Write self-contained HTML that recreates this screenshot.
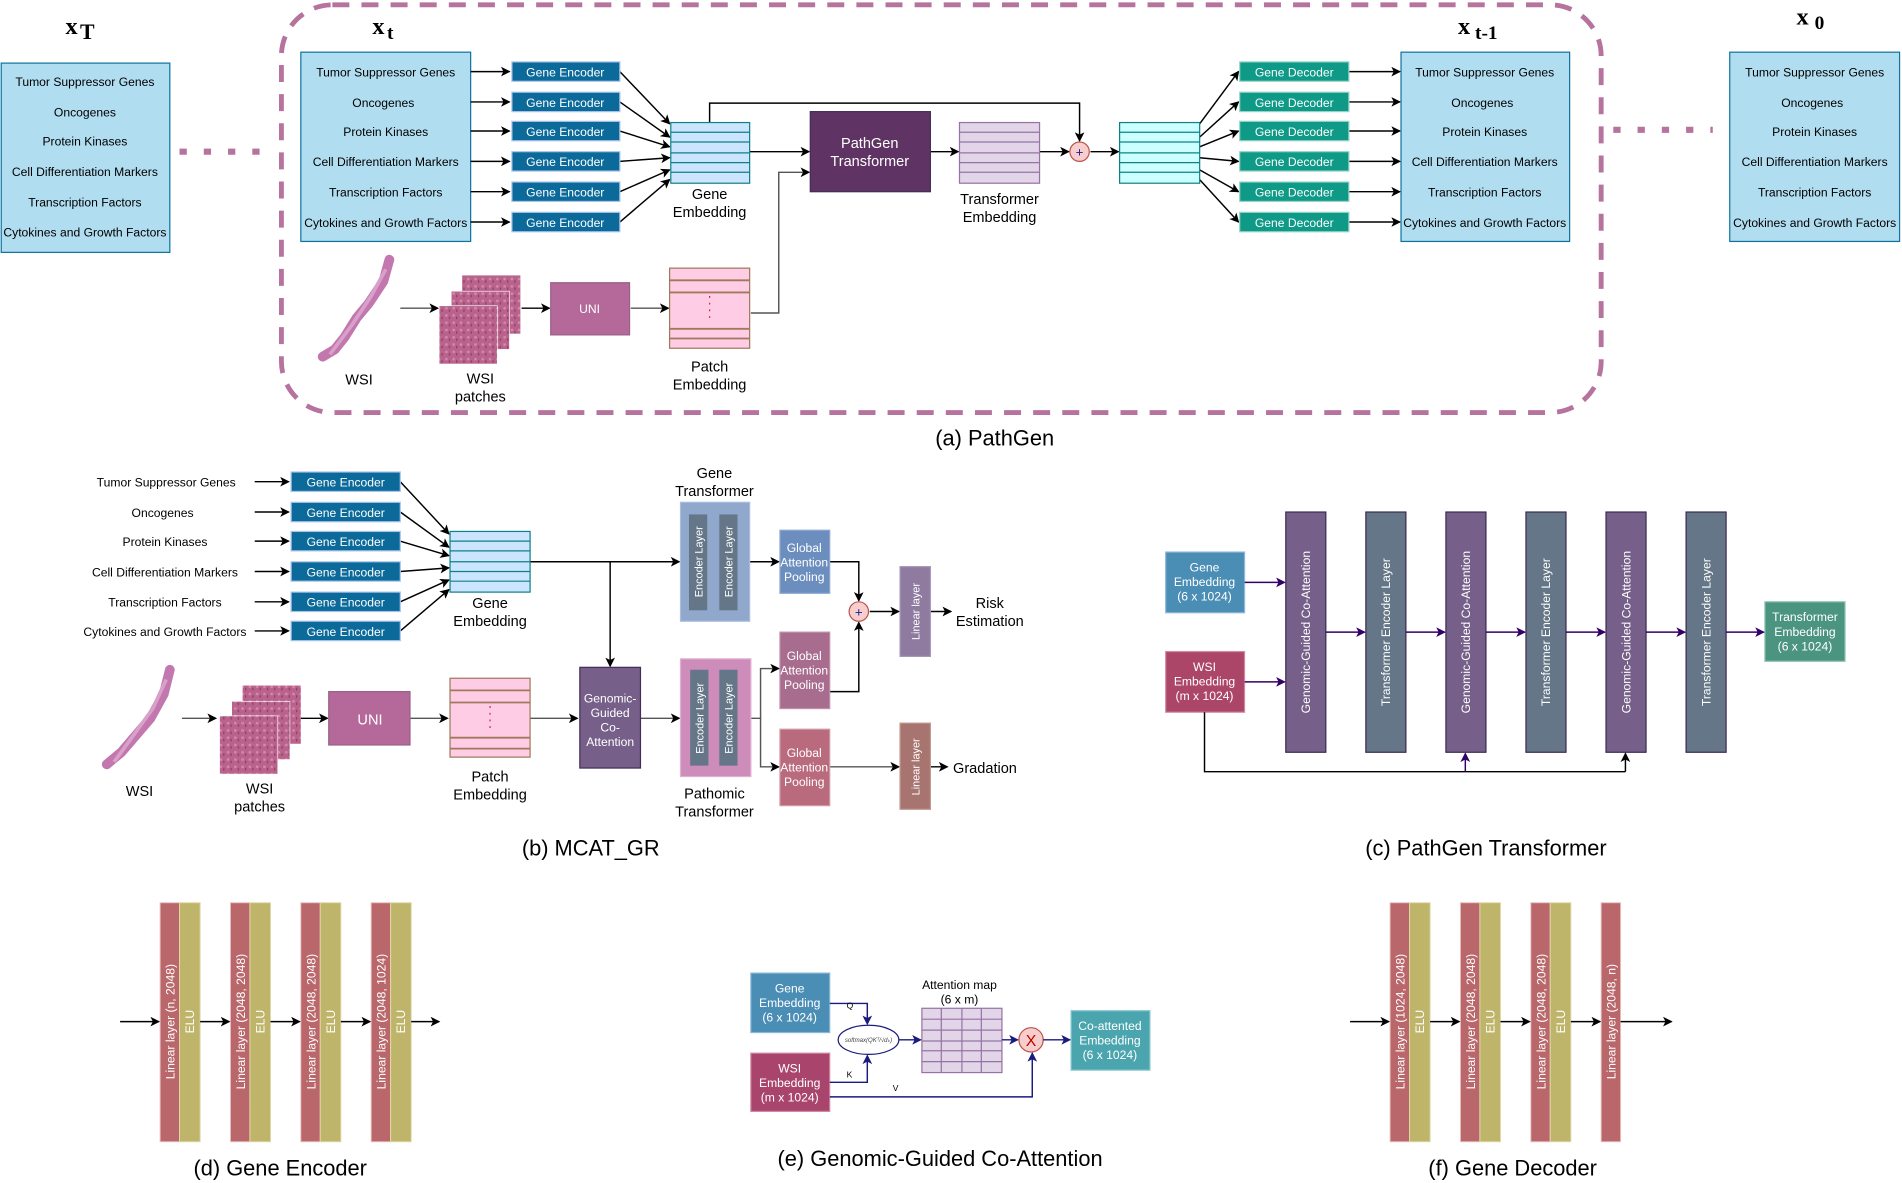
<!DOCTYPE html>
<html><head><meta charset="utf-8"><style>
html,body{margin:0;padding:0;background:#fff;}
svg{display:block;}
text{font-family:"Liberation Sans",Arial,sans-serif;}
text.sf{font-family:"Liberation Serif","DejaVu Serif",serif;font-weight:bold;}
</style></head><body>
<svg width="1902" height="1183" viewBox="0 0 1568 975" preserveAspectRatio="none" xmlns="http://www.w3.org/2000/svg">
<defs>
<marker id="a" markerWidth="8" markerHeight="8" refX="7" refY="4" orient="auto" markerUnits="userSpaceOnUse"><path d="M0,0 L8,4 L0,8 L2,4 z" fill="#000"/></marker>
<marker id="p" markerWidth="8" markerHeight="8" refX="7" refY="4" orient="auto" markerUnits="userSpaceOnUse"><path d="M0,0 L8,4 L0,8 L2,4 z" fill="#330066"/></marker>
<marker id="n" markerWidth="8" markerHeight="8" refX="7" refY="4" orient="auto" markerUnits="userSpaceOnUse"><path d="M0,0 L8,4 L0,8 L2,4 z" fill="#1a1a80"/></marker>
<pattern id="tex" width="6" height="6" patternUnits="userSpaceOnUse"><rect width="6" height="6" fill="#b8628c"/><rect x="1" y="1" width="2" height="2" fill="#d58aae"/><rect x="4" y="3" width="1" height="2" fill="#8e3b66"/></pattern>
</defs>

<!-- ============ (a) PathGen ============ -->
<rect x="232" y="4" width="1088" height="336" rx="42" fill="none" stroke="#b5739d" stroke-width="4" stroke-dasharray="14,10"/>
<line x1="148" y1="125" x2="226" y2="125" stroke="#b5739d" stroke-width="5" stroke-dasharray="6,14"/>
<line x1="1330" y1="107" x2="1412" y2="107" stroke="#b5739d" stroke-width="5" stroke-dasharray="6,14"/>

<text class="sf" x="54" y="28" font-size="20">x</text><text class="sf" x="66" y="32" font-size="18">T</text>
<text class="sf" x="307" y="28" font-size="20">x</text><text class="sf" x="319" y="32" font-size="16">t</text>
<text class="sf" x="1202" y="28" font-size="20">x</text><text class="sf" x="1216" y="32" font-size="16">t-1</text>
<text class="sf" x="1481" y="20" font-size="20">x</text><text class="sf" x="1496" y="24" font-size="16">0</text>

<g font-size="10" text-anchor="middle" fill="#000">
<rect x="1" y="52" width="139" height="156" fill="#b1ddf0" stroke="#10739e"/>
<text x="70" y="71">Tumor Suppressor Genes</text><text x="70" y="96">Oncogenes</text><text x="70" y="120">Protein Kinases</text><text x="70" y="145">Cell Differentiation Markers</text><text x="70" y="170">Transcription Factors</text><text x="70" y="195">Cytokines and Growth Factors</text>
<rect x="248" y="43" width="140" height="156" fill="#b1ddf0" stroke="#10739e"/>
<text x="318" y="63">Tumor Suppressor Genes</text><text x="316" y="88">Oncogenes</text><text x="318" y="112">Protein Kinases</text><text x="318" y="137">Cell Differentiation Markers</text><text x="318" y="162">Transcription Factors</text><text x="318" y="187">Cytokines and Growth Factors</text>
<rect x="1155" y="43" width="139" height="156" fill="#b1ddf0" stroke="#10739e"/>
<text x="1224" y="63">Tumor Suppressor Genes</text><text x="1222" y="88">Oncogenes</text><text x="1224" y="112">Protein Kinases</text><text x="1224" y="137">Cell Differentiation Markers</text><text x="1224" y="162">Transcription Factors</text><text x="1224" y="187">Cytokines and Growth Factors</text>
<rect x="1426" y="43" width="140" height="156" fill="#b1ddf0" stroke="#10739e"/>
<text x="1496" y="63">Tumor Suppressor Genes</text><text x="1494" y="88">Oncogenes</text><text x="1496" y="112">Protein Kinases</text><text x="1496" y="137">Cell Differentiation Markers</text><text x="1496" y="162">Transcription Factors</text><text x="1496" y="187">Cytokines and Growth Factors</text>
</g>

<g stroke="#000" stroke-width="1.2" marker-end="url(#a)">
<line x1="388" y1="59" x2="420" y2="59"/><line x1="388" y1="84" x2="420" y2="84"/><line x1="388" y1="108" x2="420" y2="108"/><line x1="388" y1="133" x2="420" y2="133"/><line x1="388" y1="158" x2="420" y2="158"/><line x1="388" y1="183" x2="420" y2="183"/>
<line x1="511" y1="59" x2="552" y2="102"/><line x1="511" y1="84" x2="552" y2="113"/><line x1="511" y1="108" x2="552" y2="121"/><line x1="511" y1="133" x2="552" y2="130"/><line x1="511" y1="158" x2="552" y2="140"/><line x1="511" y1="183" x2="552" y2="148"/>
<line x1="989" y1="102" x2="1021" y2="59"/><line x1="989" y1="113" x2="1021" y2="84"/><line x1="989" y1="121" x2="1021" y2="108"/><line x1="989" y1="130" x2="1021" y2="133"/><line x1="989" y1="140" x2="1021" y2="158"/><line x1="989" y1="148" x2="1021" y2="183"/>
<line x1="1112" y1="59" x2="1154" y2="59"/><line x1="1112" y1="84" x2="1154" y2="84"/><line x1="1112" y1="108" x2="1154" y2="108"/><line x1="1112" y1="133" x2="1154" y2="133"/><line x1="1112" y1="158" x2="1154" y2="158"/><line x1="1112" y1="183" x2="1154" y2="183"/>
<line x1="618" y1="125" x2="667" y2="125"/>
<line x1="767" y1="125" x2="790" y2="125"/>
<line x1="857" y1="125" x2="881" y2="125"/>
<line x1="899" y1="125" x2="922" y2="125"/>
<polyline points="585,101 585,85 890,85 890,116" fill="none"/>
<polyline points="619,258 642,258 642,142 667,142" fill="none" stroke="#555"/>
<line x1="330" y1="254" x2="361" y2="254" stroke="#555"/>
<line x1="430" y1="254" x2="453" y2="254"/>
<line x1="520" y1="254" x2="551" y2="254" stroke="#555"/>
</g>
<g font-size="10" text-anchor="middle" fill="#fff">
<g fill="#0b6a9a" stroke="#a9c4eb">
<rect x="422" y="51" width="89" height="16"/><rect x="422" y="76" width="89" height="16"/><rect x="422" y="100" width="89" height="16"/><rect x="422" y="125" width="89" height="16"/><rect x="422" y="150" width="89" height="16"/><rect x="422" y="175" width="89" height="16"/>
</g>
<text x="466" y="63">Gene Encoder</text><text x="466" y="88">Gene Encoder</text><text x="466" y="112">Gene Encoder</text><text x="466" y="137">Gene Encoder</text><text x="466" y="162">Gene Encoder</text><text x="466" y="187">Gene Encoder</text>
<g fill="#0e9a86" stroke="#9ad4c8">
<rect x="1022" y="51" width="90" height="16"/><rect x="1022" y="76" width="90" height="16"/><rect x="1022" y="100" width="90" height="16"/><rect x="1022" y="125" width="90" height="16"/><rect x="1022" y="150" width="90" height="16"/><rect x="1022" y="175" width="90" height="16"/>
</g>
<text x="1067" y="63">Gene Decoder</text><text x="1067" y="88">Gene Decoder</text><text x="1067" y="112">Gene Decoder</text><text x="1067" y="137">Gene Decoder</text><text x="1067" y="162">Gene Decoder</text><text x="1067" y="187">Gene Decoder</text>
</g>

<rect x="553" y="101" width="65" height="50" fill="#cce5ff" stroke="#0e8088"/>
<g stroke="#0e8088"><line x1="553" y1="109" x2="618" y2="109"/><line x1="553" y1="117" x2="618" y2="117"/><line x1="553" y1="126" x2="618" y2="126"/><line x1="553" y1="134" x2="618" y2="134"/><line x1="553" y1="142" x2="618" y2="142"/></g>
<text x="585" y="164" font-size="12" text-anchor="middle">Gene</text><text x="585" y="179" font-size="12" text-anchor="middle">Embedding</text>
<rect x="668" y="92" width="99" height="66" fill="#5f3464" stroke="#432d57"/>
<text x="717" y="122" font-size="12" fill="#fff" text-anchor="middle">PathGen</text><text x="717" y="137" font-size="12" fill="#fff" text-anchor="middle">Transformer</text>
<rect x="791" y="101" width="66" height="50" fill="#e1d5e7" stroke="#9673a6"/>
<g stroke="#9673a6"><line x1="791" y1="109" x2="857" y2="109"/><line x1="791" y1="117" x2="857" y2="117"/><line x1="791" y1="126" x2="857" y2="126"/><line x1="791" y1="134" x2="857" y2="134"/><line x1="791" y1="142" x2="857" y2="142"/></g>
<text x="824" y="168" font-size="12" text-anchor="middle">Transformer</text><text x="824" y="183" font-size="12" text-anchor="middle">Embedding</text>
<circle cx="890" cy="125" r="8" fill="#f8cecc" stroke="#b85450"/><text x="890" y="129" font-size="11" fill="#1a1aa0" text-anchor="middle">+</text>
<rect x="923" y="101" width="66" height="50" fill="#ccffff" stroke="#0e8088"/>
<g stroke="#0e8088"><line x1="923" y1="109" x2="989" y2="109"/><line x1="923" y1="117" x2="989" y2="117"/><line x1="923" y1="126" x2="989" y2="126"/><line x1="923" y1="134" x2="989" y2="134"/><line x1="923" y1="142" x2="989" y2="142"/></g>

<path d="M321,214 L316,232 L304,250 L294,262 L284,278 L276,288 L266,294" fill="none" stroke="#c277ae" stroke-width="8" stroke-linecap="round"/>
<path d="M318,222 L306,244 L290,268 L272,292" fill="none" stroke="#d9a0c9" stroke-width="3"/>
<text x="296" y="317" font-size="12" text-anchor="middle">WSI</text>
<rect x="381" y="227" width="48" height="48" fill="url(#tex)"/><rect x="372" y="240" width="48" height="48" fill="url(#tex)" stroke="#fff" stroke-width="0.5"/><rect x="362" y="252" width="48" height="48" fill="url(#tex)" stroke="#fff" stroke-width="0.5"/>
<text x="396" y="316" font-size="12" text-anchor="middle">WSI</text><text x="396" y="331" font-size="12" text-anchor="middle">patches</text>
<rect x="454" y="233" width="65" height="43" fill="#b5699a" stroke="#996185"/>
<text x="486" y="258" font-size="10" fill="#fff" text-anchor="middle">UNI</text>
<rect x="552" y="221" width="66" height="66" fill="#ffcce6" stroke="#a0785a"/>
<g stroke="#a0785a" stroke-width="1.5"><line x1="552" y1="231" x2="618" y2="231"/><line x1="552" y1="241" x2="618" y2="241"/><line x1="552" y1="271" x2="618" y2="271"/><line x1="552" y1="279" x2="618" y2="279"/></g>
<line x1="585" y1="244" x2="585" y2="266" stroke="#c03030" stroke-dasharray="1.5,4"/>
<text x="585" y="306" font-size="12" text-anchor="middle">Patch</text><text x="585" y="321" font-size="12" text-anchor="middle">Embedding</text>
<text x="820" y="367" font-size="18" text-anchor="middle">(a) PathGen</text>

<!-- ============ (b) MCAT_GR ============ -->
<g font-size="10" text-anchor="middle">
<text x="137" y="401">Tumor Suppressor Genes</text><text x="134" y="426">Oncogenes</text><text x="136" y="450">Protein Kinases</text><text x="136" y="475">Cell Differentiation Markers</text><text x="136" y="500">Transcription Factors</text><text x="136" y="524">Cytokines and Growth Factors</text>
</g>
<g stroke="#000" stroke-width="1.2" marker-end="url(#a)" fill="none">
<line x1="210" y1="397" x2="238" y2="397"/><line x1="210" y1="422" x2="238" y2="422"/><line x1="210" y1="446" x2="238" y2="446"/><line x1="210" y1="471" x2="238" y2="471"/><line x1="210" y1="496" x2="238" y2="496"/><line x1="210" y1="520" x2="238" y2="520"/>
<line x1="330" y1="397" x2="370" y2="440"/><line x1="330" y1="422" x2="370" y2="451"/><line x1="330" y1="446" x2="370" y2="458"/><line x1="330" y1="471" x2="370" y2="468"/><line x1="330" y1="496" x2="370" y2="478"/><line x1="330" y1="520" x2="370" y2="486"/>
<line x1="437" y1="463" x2="560" y2="463"/>
<line x1="503" y1="463" x2="503" y2="549"/>
<line x1="618" y1="463" x2="642" y2="463"/>
<polyline points="684,463 708,463 708,495"/>
<polyline points="684,570 708,570 708,513"/>
<line x1="717" y1="504" x2="741" y2="504"/>
<line x1="767" y1="504" x2="784" y2="504"/>
<line x1="150" y1="592" x2="178" y2="592" stroke="#555"/>
<line x1="248" y1="592" x2="270" y2="592"/>
<line x1="338" y1="592" x2="369" y2="592" stroke="#555"/>
<line x1="437" y1="592" x2="476" y2="592" stroke="#555"/>
<line x1="528" y1="592" x2="560" y2="592" stroke="#555"/>
<polyline points="619,592 627,592 627,551 642,551" stroke="#555"/>
<polyline points="627,592 627,632 642,632" stroke="#555"/>
<line x1="684" y1="632" x2="741" y2="632" stroke="#555"/>
<line x1="767" y1="632" x2="781" y2="632"/>
</g>
<g fill="#0b6a9a" stroke="#a9c4eb">
<rect x="240" y="389" width="90" height="16"/><rect x="240" y="414" width="90" height="16"/><rect x="240" y="438" width="90" height="16"/><rect x="240" y="463" width="90" height="16"/><rect x="240" y="488" width="90" height="16"/><rect x="240" y="512" width="90" height="16"/>
</g>
<g font-size="10" fill="#fff" text-anchor="middle">
<text x="285" y="401">Gene Encoder</text><text x="285" y="426">Gene Encoder</text><text x="285" y="450">Gene Encoder</text><text x="285" y="475">Gene Encoder</text><text x="285" y="500">Gene Encoder</text><text x="285" y="524">Gene Encoder</text>
</g>
<rect x="371" y="438" width="66" height="50" fill="#cce5ff" stroke="#0e8088"/>
<g stroke="#0e8088"><line x1="371" y1="446" x2="437" y2="446"/><line x1="371" y1="454" x2="437" y2="454"/><line x1="371" y1="463" x2="437" y2="463"/><line x1="371" y1="471" x2="437" y2="471"/><line x1="371" y1="479" x2="437" y2="479"/></g>
<text x="404" y="501" font-size="12" text-anchor="middle">Gene</text><text x="404" y="516" font-size="12" text-anchor="middle">Embedding</text>

<text x="589" y="394" font-size="12" text-anchor="middle">Gene</text><text x="589" y="409" font-size="12" text-anchor="middle">Transformer</text>
<rect x="561" y="414" width="57" height="98" fill="#8fa8cb" stroke="#a9bde0"/>
<rect x="568" y="424" width="15" height="79" fill="#647687"/><rect x="593" y="424" width="15" height="79" fill="#647687"/>
<g font-size="9" fill="#fff" text-anchor="middle">
<text transform="translate(579,463) rotate(-90)">Encoder Layer</text><text transform="translate(604,463) rotate(-90)">Encoder Layer</text>
</g>
<rect x="561" y="543" width="58" height="97" fill="#cd8cb9" stroke="#e0b0d0"/>
<rect x="569" y="552" width="15" height="79" fill="#647687"/><rect x="593" y="552" width="15" height="79" fill="#647687"/>
<g font-size="9" fill="#fff" text-anchor="middle">
<text transform="translate(580,592) rotate(-90)">Encoder Layer</text><text transform="translate(604,592) rotate(-90)">Encoder Layer</text>
</g>
<text x="589" y="658" font-size="12" text-anchor="middle">Pathomic</text><text x="589" y="673" font-size="12" text-anchor="middle">Transformer</text>

<rect x="643" y="437" width="41" height="52" fill="#6c8ebf" stroke="#8fa8d0"/>
<rect x="643" y="521" width="41" height="63" fill="#a86d8e" stroke="#c090a8"/>
<rect x="643" y="601" width="41" height="63" fill="#b96a7d" stroke="#d09aa8"/>
<g font-size="10" fill="#fff" text-anchor="middle">
<text x="663" y="455">Global</text><text x="663" y="467">Attention</text><text x="663" y="479">Pooling</text>
<text x="663" y="544">Global</text><text x="663" y="556">Attention</text><text x="663" y="568">Pooling</text>
<text x="663" y="624">Global</text><text x="663" y="636">Attention</text><text x="663" y="648">Pooling</text>
</g>
<circle cx="708" cy="504" r="8" fill="#f8cecc" stroke="#b85450"/><text x="708" y="508" font-size="11" fill="#1a1aa0" text-anchor="middle">+</text>
<rect x="742" y="467" width="25" height="74" fill="#8f7aa0" stroke="#a898b8"/>
<rect x="742" y="596" width="25" height="71" fill="#a87470" stroke="#c09890"/>
<g font-size="9" fill="#fff" text-anchor="middle">
<text transform="translate(758,504) rotate(-90)">Linear layer</text><text transform="translate(758,632) rotate(-90)">Linear layer</text>
</g>
<text x="816" y="501" font-size="12" text-anchor="middle">Risk</text><text x="816" y="516" font-size="12" text-anchor="middle">Estimation</text>
<text x="812" y="637" font-size="12" text-anchor="middle">Gradation</text>

<path d="M140,552 L135,572 L124,592 L112,606 L100,620 L88,630" fill="none" stroke="#c277ae" stroke-width="8" stroke-linecap="round"/>
<path d="M137,560 L126,584 L110,606 L94,628" fill="none" stroke="#d9a0c9" stroke-width="3"/>
<text x="115" y="656" font-size="12" text-anchor="middle">WSI</text>
<rect x="200" y="565" width="48" height="48" fill="url(#tex)"/><rect x="191" y="578" width="48" height="48" fill="url(#tex)" stroke="#fff" stroke-width="0.5"/><rect x="181" y="590" width="48" height="48" fill="url(#tex)" stroke="#fff" stroke-width="0.5"/>
<text x="214" y="654" font-size="12" text-anchor="middle">WSI</text><text x="214" y="669" font-size="12" text-anchor="middle">patches</text>
<rect x="271" y="570" width="67" height="44" fill="#b5699a" stroke="#996185"/>
<text x="305" y="597" font-size="12" fill="#fff" text-anchor="middle">UNI</text>
<rect x="371" y="559" width="66" height="65" fill="#ffcce6" stroke="#a0785a"/>
<g stroke="#a0785a" stroke-width="1.5"><line x1="371" y1="569" x2="437" y2="569"/><line x1="371" y1="579" x2="437" y2="579"/><line x1="371" y1="608" x2="437" y2="608"/><line x1="371" y1="617" x2="437" y2="617"/></g>
<line x1="404" y1="582" x2="404" y2="604" stroke="#c03030" stroke-dasharray="1.5,4"/>
<text x="404" y="644" font-size="12" text-anchor="middle">Patch</text><text x="404" y="659" font-size="12" text-anchor="middle">Embedding</text>
<rect x="478" y="550" width="50" height="83" fill="#76608a" stroke="#432d57"/>
<g font-size="10" fill="#fff" text-anchor="middle">
<text x="503" y="579">Genomic-</text><text x="503" y="591">Guided</text><text x="503" y="603">Co-</text><text x="503" y="615">Attention</text>
</g>
<text x="487" y="705" font-size="18" text-anchor="middle">(b) MCAT_GR</text>

<!-- ============ (c) ============ -->
<rect x="961" y="455" width="65" height="50" fill="#4a8db5" stroke="#8ab8d8"/>
<rect x="961" y="537" width="65" height="50" fill="#ac4669" stroke="#d08aa0"/>
<g font-size="10" fill="#fff" text-anchor="middle">
<text x="993" y="471">Gene</text><text x="993" y="483">Embedding</text><text x="993" y="495">(6 x 1024)</text>
<text x="993" y="553">WSI</text><text x="993" y="565">Embedding</text><text x="993" y="577">(m x 1024)</text>
</g>
<g stroke="#3b2a52">
<rect x="1060" y="422" width="33" height="198" fill="#76608a"/>
<rect x="1126" y="422" width="33" height="198" fill="#647687"/>
<rect x="1192" y="422" width="33" height="198" fill="#76608a"/>
<rect x="1258" y="422" width="33" height="198" fill="#647687"/>
<rect x="1324" y="422" width="33" height="198" fill="#76608a"/>
<rect x="1390" y="422" width="33" height="198" fill="#647687"/>
</g>
<g font-size="10" fill="#fff" text-anchor="middle">
<text transform="translate(1080,521) rotate(-90)">Genomic-Guided Co-Attention</text>
<text transform="translate(1146,521) rotate(-90)">Transformer Encoder Layer</text>
<text transform="translate(1212,521) rotate(-90)">Genomic-Guided Co-Attention</text>
<text transform="translate(1278,521) rotate(-90)">Transformer Encoder Layer</text>
<text transform="translate(1344,521) rotate(-90)">Genomic-Guided Co-Attention</text>
<text transform="translate(1410,521) rotate(-90)">Transformer Encoder Layer</text>
</g>
<rect x="1455" y="496" width="66" height="49" fill="#4b9480" stroke="#8ac0b0"/>
<g font-size="10" fill="#fff" text-anchor="middle"><text x="1488" y="512">Transformer</text><text x="1488" y="524">Embedding</text><text x="1488" y="536">(6 x 1024)</text></g>
<g stroke="#330066" stroke-width="1.2" marker-end="url(#p)" fill="none">
<line x1="1026" y1="480" x2="1059" y2="480"/><line x1="1026" y1="562" x2="1059" y2="562"/>
<line x1="1093" y1="521" x2="1125" y2="521"/><line x1="1159" y1="521" x2="1191" y2="521"/><line x1="1225" y1="521" x2="1257" y2="521"/><line x1="1291" y1="521" x2="1323" y2="521"/><line x1="1357" y1="521" x2="1389" y2="521"/><line x1="1423" y1="521" x2="1454" y2="521"/>
</g>
<g stroke="#000" stroke-width="1.2" fill="none">
<polyline points="993,587 993,636 1340,636"/>
<line x1="1208" y1="636" x2="1208" y2="621" marker-end="url(#p)" stroke="#330066"/>
<line x1="1340" y1="636" x2="1340" y2="621" marker-end="url(#a)"/>
</g>
<text x="1225" y="705" font-size="18" text-anchor="middle">(c) PathGen Transformer</text>

<!-- ============ (d) ============ -->
<g stroke="#e8c0c0" stroke-width="0.8">
<rect x="132" y="744" width="16" height="197" fill="#b9676a"/><rect x="148" y="744" width="17" height="197" fill="#bfb56a" stroke="#e0d8a8"/>
<rect x="190" y="744" width="16" height="197" fill="#b9676a"/><rect x="206" y="744" width="17" height="197" fill="#bfb56a" stroke="#e0d8a8"/>
<rect x="248" y="744" width="16" height="197" fill="#b9676a"/><rect x="264" y="744" width="17" height="197" fill="#bfb56a" stroke="#e0d8a8"/>
<rect x="306" y="744" width="16" height="197" fill="#b9676a"/><rect x="322" y="744" width="17" height="197" fill="#bfb56a" stroke="#e0d8a8"/>
</g>
<g font-size="10" fill="#fff" text-anchor="middle">
<text transform="translate(144,842) rotate(-90)">Linear layer (n, 2048)</text><text transform="translate(160,842) rotate(-90)">ELU</text>
<text transform="translate(202,842) rotate(-90)">Linear layer (2048, 2048)</text><text transform="translate(218,842) rotate(-90)">ELU</text>
<text transform="translate(260,842) rotate(-90)">Linear layer (2048, 2048)</text><text transform="translate(276,842) rotate(-90)">ELU</text>
<text transform="translate(318,842) rotate(-90)">Linear layer (2048, 1024)</text><text transform="translate(334,842) rotate(-90)">ELU</text>
</g>
<g stroke="#000" stroke-width="1.2" marker-end="url(#a)">
<line x1="99" y1="842" x2="131" y2="842"/><line x1="165" y1="842" x2="189" y2="842"/><line x1="223" y1="842" x2="247" y2="842"/><line x1="281" y1="842" x2="305" y2="842"/><line x1="339" y1="842" x2="362" y2="842"/>
</g>
<text x="231" y="969" font-size="18" text-anchor="middle">(d) Gene Encoder</text>

<!-- ============ (f) ============ -->
<g stroke="#e8c0c0" stroke-width="0.8">
<rect x="1146" y="744" width="16" height="197" fill="#b9676a"/><rect x="1162" y="744" width="17" height="197" fill="#bfb56a" stroke="#e0d8a8"/>
<rect x="1204" y="744" width="16" height="197" fill="#b9676a"/><rect x="1220" y="744" width="17" height="197" fill="#bfb56a" stroke="#e0d8a8"/>
<rect x="1262" y="744" width="16" height="197" fill="#b9676a"/><rect x="1278" y="744" width="17" height="197" fill="#bfb56a" stroke="#e0d8a8"/>
<rect x="1320" y="744" width="16" height="197" fill="#b9676a"/>
</g>
<g font-size="10" fill="#fff" text-anchor="middle">
<text transform="translate(1158,842) rotate(-90)">Linear layer (1024, 2048)</text><text transform="translate(1174,842) rotate(-90)">ELU</text>
<text transform="translate(1216,842) rotate(-90)">Linear layer (2048, 2048)</text><text transform="translate(1232,842) rotate(-90)">ELU</text>
<text transform="translate(1274,842) rotate(-90)">Linear layer (2048, 2048)</text><text transform="translate(1290,842) rotate(-90)">ELU</text>
<text transform="translate(1332,842) rotate(-90)">Linear layer (2048, n)</text>
</g>
<g stroke="#000" stroke-width="1.2" marker-end="url(#a)">
<line x1="1113" y1="842" x2="1145" y2="842"/><line x1="1179" y1="842" x2="1203" y2="842"/><line x1="1237" y1="842" x2="1261" y2="842"/><line x1="1295" y1="842" x2="1319" y2="842"/><line x1="1336" y1="842" x2="1378" y2="842"/>
</g>
<text x="1247" y="969" font-size="18" text-anchor="middle">(f) Gene Decoder</text>

<!-- ============ (e) ============ -->
<rect x="619" y="802" width="65" height="49" fill="#4a8db5" stroke="#8ab8d8"/>
<rect x="619" y="868" width="65" height="48" fill="#a9456d" stroke="#d08aa0"/>
<g font-size="10" fill="#fff" text-anchor="middle">
<text x="651" y="818">Gene</text><text x="651" y="830">Embedding</text><text x="651" y="842">(6 x 1024)</text>
<text x="651" y="884">WSI</text><text x="651" y="896">Embedding</text><text x="651" y="908">(m x 1024)</text>
</g>
<ellipse cx="716" cy="857" rx="25" ry="12" fill="#fff" stroke="#1a1a80"/>
<text x="716" y="859" font-size="5" text-anchor="middle" fill="#444" font-style="italic">softmax(QKᵀ/√dₖ)</text>
<text x="791" y="815" font-size="10" text-anchor="middle">Attention map</text><text x="791" y="827" font-size="10" text-anchor="middle">(6 x m)</text>
<rect x="760" y="831" width="66" height="53" fill="#e1d5e7" stroke="#9673a6"/>
<g stroke="#9673a6"><line x1="776" y1="831" x2="776" y2="884"/><line x1="793" y1="831" x2="793" y2="884"/><line x1="809" y1="831" x2="809" y2="884"/>
<line x1="760" y1="840" x2="826" y2="840"/><line x1="760" y1="849" x2="826" y2="849"/><line x1="760" y1="858" x2="826" y2="858"/><line x1="760" y1="866" x2="826" y2="866"/><line x1="760" y1="875" x2="826" y2="875"/></g>
<circle cx="850" cy="857" r="10" fill="#f8cecc" stroke="#b85450"/>
<text x="850" y="862" font-size="13" fill="#c00000" text-anchor="middle">X</text>
<rect x="883" y="833" width="65" height="49" fill="#4ba5ae" stroke="#8ac8d0"/>
<g font-size="10" fill="#fff" text-anchor="middle"><text x="915" y="849">Co-attented</text><text x="915" y="861">Embedding</text><text x="915" y="873">(6 x 1024)</text></g>
<g stroke="#1a1a80" stroke-width="1.2" fill="none" marker-end="url(#n)">
<polyline points="684,827 715,827 715,844"/>
<polyline points="684,892 715,892 715,870"/>
<polyline points="684,904 851,904 851,868"/>
<line x1="741" y1="857" x2="759" y2="857"/>
<line x1="826" y1="857" x2="839" y2="857"/>
<line x1="860" y1="857" x2="882" y2="857"/>
</g>
<g font-size="7"><text x="698" y="831">Q</text><text x="698" y="888">K</text><text x="736" y="899">V</text></g>
<text x="775" y="961" font-size="18" text-anchor="middle">(e) Genomic-Guided Co-Attention</text>
</svg>
</body></html>
